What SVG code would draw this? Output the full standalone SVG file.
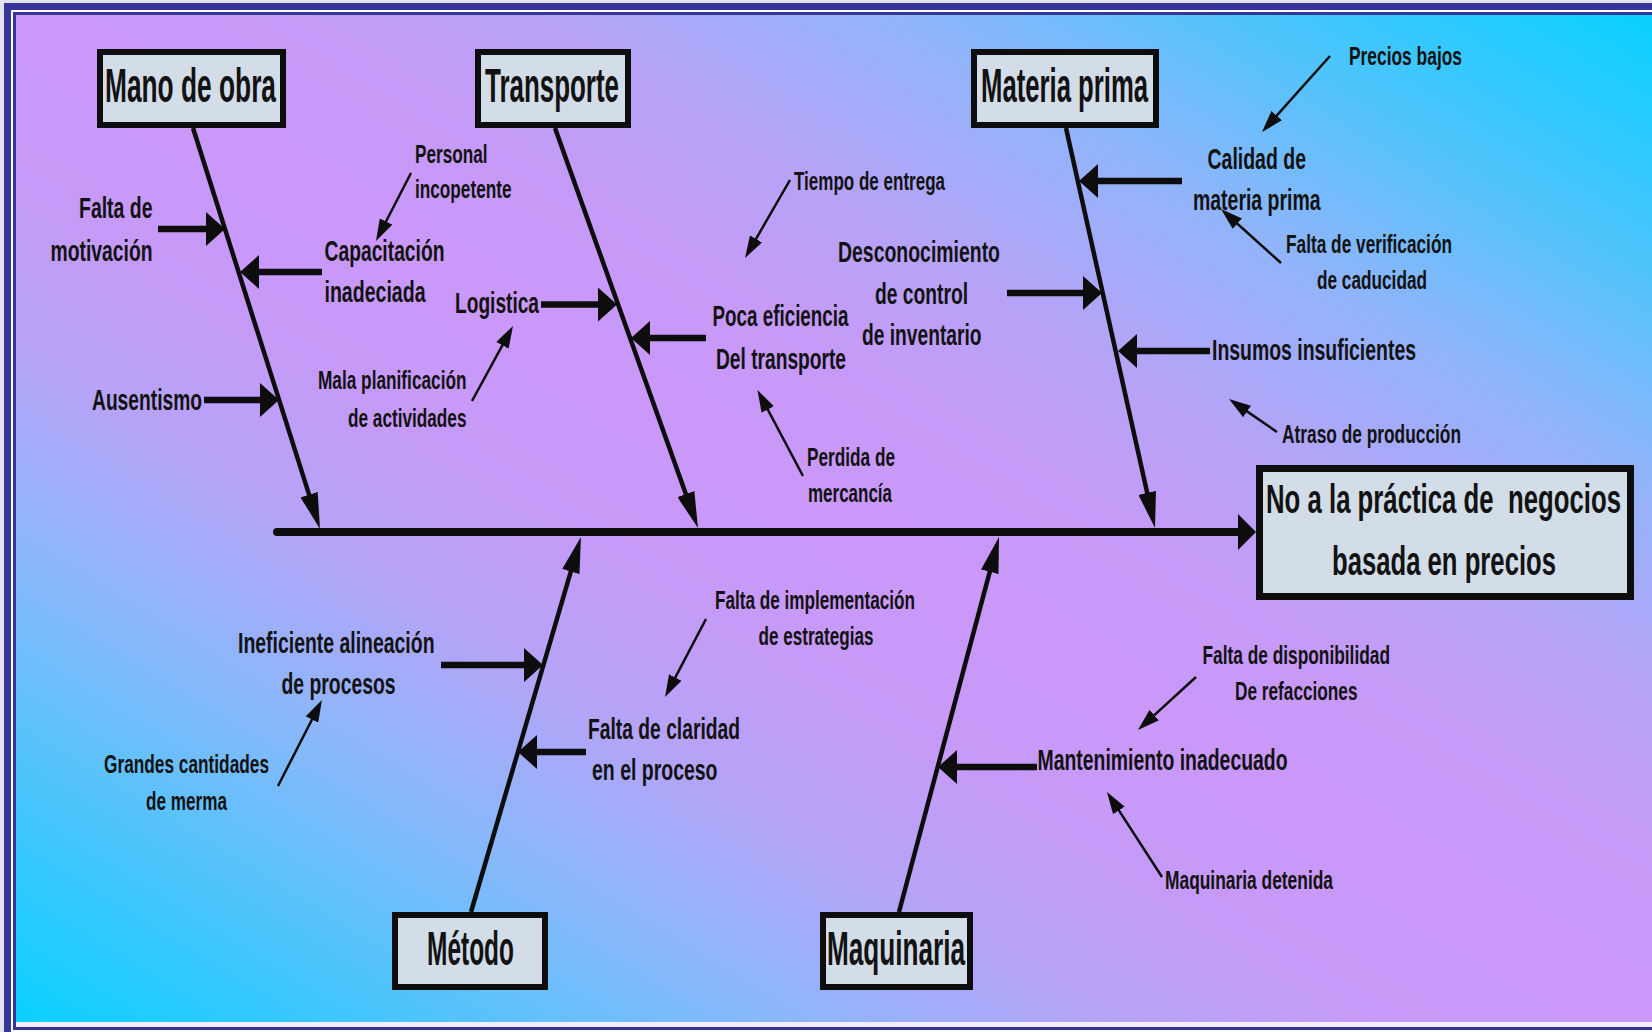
<svg xmlns="http://www.w3.org/2000/svg" width="1652" height="1032" viewBox="0 0 1652 1032">
  <defs>
    <linearGradient id="bg" x1="1" y1="0" x2="0" y2="1">
      <stop offset="0" stop-color="#08d0ff"/>
      <stop offset="0.13" stop-color="#50c4fc"/>
      <stop offset="0.23" stop-color="#90b4fa"/>
      <stop offset="0.33" stop-color="#b4a4f8"/>
      <stop offset="0.42" stop-color="#c69af8"/>
      <stop offset="0.5" stop-color="#ca98f9"/>
      <stop offset="0.58" stop-color="#c69af8"/>
      <stop offset="0.67" stop-color="#b4a4f8"/>
      <stop offset="0.77" stop-color="#88b8fa"/>
      <stop offset="0.87" stop-color="#50c4fc"/>
      <stop offset="1" stop-color="#08d0ff"/>
    </linearGradient>
    <marker id="head-spine" viewBox="0 -9 36 18" refX="1" refY="0" markerWidth="36" markerHeight="18" markerUnits="userSpaceOnUse" orient="auto">
      <path d="M0,-9 L36,0 L0,9 z" fill="#0d0d0d"/>
    </marker>
    <marker id="head-main" viewBox="0 -18 18 36" refX="1" refY="0" markerWidth="18" markerHeight="36" markerUnits="userSpaceOnUse" orient="auto">
      <path d="M0,-18 L18,0 L0,18 z" fill="#0d0d0d"/>
    </marker>
    <marker id="head-thick" viewBox="0 -17 19 34" refX="1" refY="0" markerWidth="19" markerHeight="34" markerUnits="userSpaceOnUse" orient="auto">
      <path d="M0,-17 L19,0 L0,17 z" fill="#0d0d0d"/>
    </marker>
    <marker id="head-thin" viewBox="0 -7 22 14" refX="1" refY="0" markerWidth="22" markerHeight="14" markerUnits="userSpaceOnUse" orient="auto">
      <path d="M0,-7 L22,0 L0,7 z" fill="#0d0d0d"/>
    </marker>
  </defs>
  <style>
    text { font-family: "Liberation Sans Narrow", "Liberation Sans", Arial, sans-serif; font-weight: bold; fill: #121212; }
    .t1 { font-size: 48px; }
    .t2 { font-size: 40px; }
    .t3 { font-size: 30px; }
    .t4 { font-size: 25px; }
    .box { fill: #d3dde8; stroke: #0d0d0d; stroke-width: 6; }
    .effect { fill: #d3dde8; stroke: #0d0d0d; stroke-width: 7; }
    .spine { stroke: #0d0d0d; stroke-width: 4.5; fill: none; marker-end: url(#head-spine); }
    .main { stroke: #0d0d0d; stroke-width: 8; stroke-linecap: round; fill: none; marker-end: url(#head-main); }
    .thick { stroke: #0d0d0d; stroke-width: 6.5; fill: none; marker-end: url(#head-thick); }
    .thin { stroke: #0d0d0d; stroke-width: 2.5; fill: none; marker-end: url(#head-thin); }
  </style>

  <!-- double frame and background -->
  <g id="frame">
    <rect width="1652" height="1032" fill="#e4e2ee"/>
    <rect x="4" y="3" width="1700" height="1100" fill="#35359a"/>
    <rect x="11" y="10" width="1700" height="1100" fill="#ffffff"/>
    <rect x="13" y="12" width="1700" height="1018" fill="#35359a"/>
    <rect x="16" y="15" width="1700" height="1012" fill="#f3ecfb"/>
    <rect x="16" y="15" width="1636" height="1007" fill="url(#bg)"/>
  </g>

  <!-- connectors: spines, main line and cause arrows -->
  <g id="connectors">
    <line class="main" x1="277" y1="532" x2="1239" y2="532"/>
    <line class="spine" x1="193" y1="128" x2="309.4" y2="495.6"/>
    <line class="spine" x1="555" y1="128" x2="686.2" y2="495"/>
    <line class="spine" x1="1066" y1="128" x2="1147.4" y2="493.8"/>
    <line class="spine" x1="471" y1="912" x2="571.1" y2="570.6"/>
    <line class="spine" x1="899" y1="912" x2="990" y2="570.8"/>

    <line class="thick" x1="158" y1="229" x2="207" y2="229"/>
    <line class="thick" x1="322" y1="272" x2="258" y2="272"/>
    <line class="thick" x1="204" y1="400" x2="261" y2="400"/>
    <line class="thick" x1="541" y1="304.5" x2="599" y2="304.5"/>
    <line class="thick" x1="706" y1="338" x2="649" y2="338"/>
    <line class="thick" x1="1182" y1="181" x2="1097" y2="181"/>
    <line class="thick" x1="1007" y1="293" x2="1084" y2="293"/>
    <line class="thick" x1="1210" y1="351" x2="1136" y2="351"/>
    <line class="thick" x1="441" y1="665" x2="525" y2="665"/>
    <line class="thick" x1="586" y1="752" x2="536" y2="752"/>
    <line class="thick" x1="1037" y1="767" x2="956" y2="767"/>

    <line class="thin" x1="411" y1="173" x2="385.6" y2="222.3"/>
    <line class="thin" x1="790" y1="180" x2="755.5" y2="239.8"/>
    <line class="thin" x1="472" y1="401" x2="502.9" y2="344.4"/>
    <line class="thin" x1="803" y1="476" x2="767.3" y2="408.6"/>
    <line class="thin" x1="1330" y1="56" x2="1276" y2="116.4"/>
    <line class="thin" x1="1281" y1="263" x2="1236.6" y2="223"/>
    <line class="thin" x1="1277" y1="432" x2="1246.3" y2="410.9"/>
    <line class="thin" x1="706" y1="619" x2="674.8" y2="678.4"/>
    <line class="thin" x1="278" y1="786" x2="312.4" y2="718.7"/>
    <line class="thin" x1="1196" y1="677" x2="1153.5" y2="715.8"/>
    <line class="thin" x1="1162" y1="877" x2="1118.4" y2="809.6"/>
  </g>

  <!-- category boxes -->
  <g id="mano-de-obra">
    <rect class="box" x="100" y="52" width="183" height="73"/>
    <text class="t1" x="105" y="102" textLength="171" lengthAdjust="spacingAndGlyphs">Mano de obra</text>
  </g>
  <g id="transporte">
    <rect class="box" x="478" y="52" width="150" height="73"/>
    <text class="t1" x="485" y="102" textLength="134" lengthAdjust="spacingAndGlyphs">Transporte</text>
  </g>
  <g id="materia-prima">
    <rect class="box" x="974" y="52" width="182" height="73"/>
    <text class="t1" x="981" y="102" textLength="167" lengthAdjust="spacingAndGlyphs">Materia prima</text>
  </g>
  <g id="metodo">
    <rect class="box" x="395" y="915" width="150" height="72"/>
    <text class="t1" x="427" y="965" textLength="87" lengthAdjust="spacingAndGlyphs">Método</text>
  </g>
  <g id="maquinaria">
    <rect class="box" x="823" y="915" width="147" height="72"/>
    <text class="t1" x="827" y="965" textLength="138" lengthAdjust="spacingAndGlyphs">Maquinaria</text>
  </g>

  <!-- effect -->
  <g id="efecto">
    <rect class="effect" x="1259.5" y="468.5" width="371" height="128"/>
    <text class="t2" x="1266" y="513" textLength="355" lengthAdjust="spacingAndGlyphs" xml:space="preserve">No a la práctica de  negocios</text>
    <text class="t2" x="1332" y="575" textLength="224" lengthAdjust="spacingAndGlyphs">basada en precios</text>
  </g>

  <!-- causes: Mano de obra -->
  <g id="falta-de-motivacion">
    <text class="t3" x="79" y="218" textLength="73.5" lengthAdjust="spacingAndGlyphs">Falta de</text>
    <text class="t3" x="50.5" y="261" textLength="102" lengthAdjust="spacingAndGlyphs">motivación</text>
  </g>
  <g id="capacitacion-inadeciada">
    <text class="t3" x="324.5" y="261" textLength="120" lengthAdjust="spacingAndGlyphs">Capacitación</text>
    <text class="t3" x="324.5" y="302" textLength="101" lengthAdjust="spacingAndGlyphs">inadeciada</text>
  </g>
  <g id="personal-incopetente">
    <text class="t4" x="415" y="162.5" textLength="72.5" lengthAdjust="spacingAndGlyphs">Personal</text>
    <text class="t4" x="415" y="198" textLength="96.5" lengthAdjust="spacingAndGlyphs">incopetente</text>
  </g>
  <g id="ausentismo">
    <text class="t3" x="92" y="409.5" textLength="110" lengthAdjust="spacingAndGlyphs">Ausentismo</text>
  </g>

  <!-- causes: Transporte -->
  <g id="logistica">
    <text class="t3" x="455" y="313" textLength="84" lengthAdjust="spacingAndGlyphs">Logistica</text>
  </g>
  <g id="mala-planificacion">
    <text class="t4" x="318" y="389" textLength="148.5" lengthAdjust="spacingAndGlyphs">Mala planificación</text>
    <text class="t4" x="348" y="426.5" textLength="118.5" lengthAdjust="spacingAndGlyphs">de actividades</text>
  </g>
  <g id="poca-eficiencia">
    <text class="t3" x="712.5" y="326" textLength="136" lengthAdjust="spacingAndGlyphs">Poca eficiencia</text>
    <text class="t3" x="716" y="368.5" textLength="130" lengthAdjust="spacingAndGlyphs">Del transporte</text>
  </g>
  <g id="tiempo-de-entrega">
    <text class="t4" x="794" y="190" textLength="151" lengthAdjust="spacingAndGlyphs">Tiempo de entrega</text>
  </g>
  <g id="perdida-de-mercancia">
    <text class="t4" x="807" y="466" textLength="88" lengthAdjust="spacingAndGlyphs">Perdida de</text>
    <text class="t4" x="808" y="502" textLength="84" lengthAdjust="spacingAndGlyphs">mercancía</text>
  </g>

  <!-- causes: Materia prima -->
  <g id="desconocimiento">
    <text class="t3" x="838" y="262" textLength="162" lengthAdjust="spacingAndGlyphs">Desconocimiento</text>
    <text class="t3" x="875" y="303.5" textLength="93" lengthAdjust="spacingAndGlyphs">de control</text>
    <text class="t3" x="862" y="345" textLength="119.5" lengthAdjust="spacingAndGlyphs">de inventario</text>
  </g>
  <g id="calidad-de-materia-prima">
    <text class="t3" x="1207.5" y="169" textLength="98.5" lengthAdjust="spacingAndGlyphs">Calidad de</text>
    <text class="t3" x="1193" y="210" textLength="127.5" lengthAdjust="spacingAndGlyphs">materia prima</text>
  </g>
  <g id="precios-bajos">
    <text class="t4" x="1349" y="65" textLength="113" lengthAdjust="spacingAndGlyphs">Precios bajos</text>
  </g>
  <g id="falta-de-verificacion">
    <text class="t4" x="1286" y="252.5" textLength="166" lengthAdjust="spacingAndGlyphs">Falta de verificación</text>
    <text class="t4" x="1317" y="288.5" textLength="110" lengthAdjust="spacingAndGlyphs">de caducidad</text>
  </g>
  <g id="insumos-insuficientes">
    <text class="t3" x="1212" y="360" textLength="204" lengthAdjust="spacingAndGlyphs">Insumos insuficientes</text>
  </g>
  <g id="atraso-de-produccion">
    <text class="t4" x="1282" y="443" textLength="179" lengthAdjust="spacingAndGlyphs">Atraso de producción</text>
  </g>

  <!-- causes: Método -->
  <g id="ineficiente-alineacion">
    <text class="t3" x="238" y="653" textLength="196.5" lengthAdjust="spacingAndGlyphs">Ineficiente alineación</text>
    <text class="t3" x="281.5" y="694" textLength="114" lengthAdjust="spacingAndGlyphs">de procesos</text>
  </g>
  <g id="grandes-cantidades-de-merma">
    <text class="t4" x="104" y="773" textLength="165" lengthAdjust="spacingAndGlyphs">Grandes cantidades</text>
    <text class="t4" x="146" y="810" textLength="81" lengthAdjust="spacingAndGlyphs">de merma</text>
  </g>
  <g id="falta-de-claridad">
    <text class="t3" x="588" y="739" textLength="152" lengthAdjust="spacingAndGlyphs">Falta de claridad</text>
    <text class="t3" x="592" y="780" textLength="125.5" lengthAdjust="spacingAndGlyphs">en el proceso</text>
  </g>
  <g id="falta-de-implementacion">
    <text class="t4" x="715" y="609" textLength="200" lengthAdjust="spacingAndGlyphs">Falta de implementación</text>
    <text class="t4" x="758.5" y="645" textLength="115" lengthAdjust="spacingAndGlyphs">de estrategias</text>
  </g>

  <!-- causes: Maquinaria -->
  <g id="mantenimiento-inadecuado">
    <text class="t3" x="1037.5" y="770" textLength="250" lengthAdjust="spacingAndGlyphs">Mantenimiento inadecuado</text>
  </g>
  <g id="falta-de-disponibilidad">
    <text class="t4" x="1202.5" y="664" textLength="187.5" lengthAdjust="spacingAndGlyphs">Falta de disponibilidad</text>
    <text class="t4" x="1235" y="700" textLength="122.5" lengthAdjust="spacingAndGlyphs">De refacciones</text>
  </g>
  <g id="maquinaria-detenida">
    <text class="t4" x="1165" y="889" textLength="168" lengthAdjust="spacingAndGlyphs">Maquinaria detenida</text>
  </g>
</svg>
